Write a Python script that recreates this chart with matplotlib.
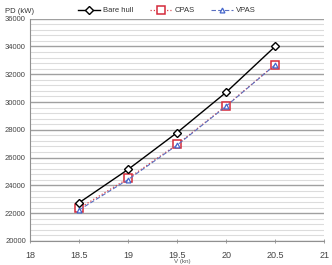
import numpy as np
import matplotlib.pyplot as plt
from matplotlib.ticker import MultipleLocator

speed = [18.5, 19, 19.5, 20, 20.5]
bare_hull = [22750, 25150, 27800, 30700, 34000]
cpas = [22350, 24500, 26950, 29730, 32700]
vpas = [22230, 24420, 26900, 29700, 32680]
x_ticks = [18, 18.5, 19, 19.5, 20, 20.5, 21]
x_tick_labels = ["18", "18.5", "19", "19.5", "20", "20.5", "21"]

plt.rcParams['font.family'] = ['Liberation Sans', 'DejaVu Sans']

fig = plt.figure(figsize=(3.32, 2.65), dpi=100)
ax = fig.add_axes([0.0904, 0.0906, 0.886, 0.839])

ax.plot(speed, bare_hull, color="black", lw=1.0, marker="D", ms=4.5,
        mfc="white", mec="black", mew=1.0, label="Bare hull", zorder=4)
ax.plot(speed, cpas, color="#d9404a", lw=0.9, ls=":", marker="s", ms=5.5,
        mfc="white", mec="#d42a3a", mew=1.1, label="CPAS", zorder=3)
ax.plot(speed, vpas, color="#5a6fc0", lw=0.8, ls=(0, (4, 2)), marker="^", ms=3.5,
        mfc="white", mec="#4466cc", mew=0.9, label="VPAS", zorder=5)

ax.set_xlim(18, 21)
ax.set_ylim(20000, 36000)
ax.set_xticks(x_ticks)
ax.set_xticklabels(x_tick_labels)
ax.yaxis.set_major_locator(MultipleLocator(2000))
ax.yaxis.set_minor_locator(MultipleLocator(400))

ax.grid(axis="y", which="major", color="#a0a0a0", lw=1.0)
ax.grid(axis="y", which="minor", color="#dcdcdc", lw=0.8)
ax.set_axisbelow(True)

for s in ["top", "right"]:
    ax.spines[s].set_visible(False)
for s in ["left", "bottom"]:
    ax.spines[s].set_color("#909090")
    ax.spines[s].set_linewidth(0.8)

ax.tick_params(axis="y", which="both", length=0, labelsize=5.5, colors="#444444", pad=3)
ax.tick_params(axis="x", length=3, direction="inout", width=0.6, color="#909090",
               labelsize=6.5, labelcolor="#444444", pad=6)

fig.text(0.015, 0.955, "PD (kW)", fontsize=5.5, color="#333333", va="center")
fig.text(0.55, 0.003, "V (kn)", fontsize=4.5, color="#555555", ha="center", va="bottom")

ax.legend(loc="lower left", bbox_to_anchor=(0.15, 1.0), ncol=3, frameon=False,
          fontsize=5.5, handlelength=2.8, columnspacing=2.2, handletextpad=0.4,
          borderaxespad=0.15, labelcolor="#333333")

fig.savefig("out.png", dpi=100)
